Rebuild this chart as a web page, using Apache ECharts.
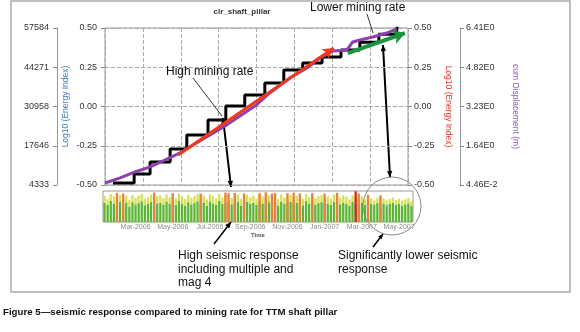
<!DOCTYPE html>
<html>
<head>
<meta charset="utf-8">
<script src="https://cdn.jsdelivr.net/npm/echarts@6/dist/echarts.min.js"></script>
<style>
  html, body { margin: 0; padding: 0; background: #fff; }
  #chart { width: 580px; height: 332px; }
</style>
</head>
<body>
<div id="chart"></div>
<script>
// tick labels
const energyLabels = ['-0.50', '-0.25', '0.00', '0.25', '0.50'];
const miningLabels = ['4333', '17646', '30958', '44271', '57584'];
const dispLabels = ['4.46E-2', '1.64E0', '3.23E0', '4.82E0', '6.41E0'];

// mining staircase: [step position, new level]
const stairs = [[0.21, -0.487], [0.77, -0.43], [1.19, -0.354], [1.72, -0.271], [2.16, -0.182],
  [2.72, -0.086], [3.19, 0.003], [3.69, 0.073], [4.22, 0.150], [4.72, 0.232], [5.22, 0.277],
  [5.73, 0.315], [6.23, 0.36], [6.73, 0.41], [7.23, 0.46], [7.70, 0.5], [7.75, 0.5]];

// cumulative displacement
const displacement = [[0, -0.487], [0.40, -0.455], [0.79, -0.417], [1.19, -0.385], [1.58, -0.341],
  [1.98, -0.296], [2.37, -0.239], [2.77, -0.182], [3.17, -0.124], [3.56, -0.061], [3.96, 0.003],
  [4.35, 0.086], [4.88, 0.182], [5.33, 0.245], [5.67, 0.309], [6.02, 0.354], [6.39, 0.36],
  [6.54, 0.411], [6.73, 0.424], [7.07, 0.443], [7.44, 0.468], [7.70, 0.494]];

// trend arrows
const highRateTrend = [[1.93, -0.309], [6.04, 0.373]];
const lowRateTrend = [[6.41, 0.34], [7.92, 0.468]];

// seismic response panel
const greenBars = [62,55,68,60,52,66,58,63,50,64, 57,61,67,54,59,65,52,60,63,56,
  66,58,62,55,69,60,53,64,57,61, 67,59,63,52,66,60,55,68,58,62,
  64,57,61,66,53,60,65,58,62,55, 67,60,56,64,59,63,52,66,58,61,
  65,57,62,60,54,67,59,63,56,61, 64,58,60,55,66,62,57,63,59,52,
  65,60,58,62,56,64,59,55,61,57, 60,54,58,62,55,59,53,57,60,52];
const topBars = [84,74,90,82,70,88,79,86,72,87, 78,85,91,75,80,88,73,84,86,77,
  89,79,85,76,92,83,74,87,78,84, 90,80,86,73,89,83,76,91,79,85,
  87,78,84,89,74,83,88,79,85,76, 90,83,77,87,80,86,73,89,79,84,
  88,78,85,83,75,90,80,86,77,84, 87,79,83,76,89,85,78,86,82,73,
  86,81,79,83,72,80,76,70,78,74, 76,70,74,79,71,75,69,73,77,68];
const spikeIdx = [4, 6, 16, 22, 31, 39, 40, 42, 45, 50, 52, 54, 55, 59, 61, 63, 67, 71, 75, 81, 82, 85, 89];
const spikeVal = [94, 92, 95, 93, 92, 95, 93, 94, 92, 93, 96, 92, 94, 93, 95, 92, 93, 92, 94, 99, 92, 88, 86];
const barTickIdx = [10, 22, 34, 47, 59, 71, 83, 95];
const barTickLabels = ['Mar-2006', 'May-2006', 'Jul-2006', 'Sep-2006', 'Nov-2006', 'Jan-2007', 'Mar-2007', 'May-2007'];

const FONT = 'Arial, "Liberation Sans", sans-serif';

const barCats = greenBars.map((_, i) => 'w' + i);
const yellowPart = topBars.map((t, i) => t - greenBars[i]);
const spikes = greenBars.map(() => 0);
spikeIdx.forEach((k, i) => { spikes[k] = spikeVal[i]; });

function idxLabel(arr) {
    return v => arr[Math.round((v + 0.5) / 0.25)];
}

function arrow(x1, y1, x2, y2, both, size, width) {
    const len = Math.hypot(x2 - x1, y2 - y1);
    const dx = (x2 - x1) / len, dy = (y2 - y1) / len;
    const head = (tx, ty, ux, uy) => ({
        type: 'polygon',
        shape: { points: [[tx, ty],
            [tx - ux * size - uy * size * 0.45, ty - uy * size + ux * size * 0.45],
            [tx - ux * size + uy * size * 0.45, ty - uy * size - ux * size * 0.45]] },
        style: { fill: '#000' }
    });
    const els = [{ type: 'line', shape: { x1: x1, y1: y1, x2: x2, y2: y2 }, style: { stroke: '#000', lineWidth: width } },
        head(x2, y2, dx, dy)];
    if (both) els.push(head(x1, y1, -dx, -dy));
    return els;
}

const chart = echarts.init(document.getElementById('chart'));

const tick = { show: true, length: 4, lineStyle: { color: '#888' } };
const lbl = { fontSize: 9, color: '#333', fontFamily: FONT };

const option = {
    animation: false,
    textStyle: { fontFamily: FONT },
    grid: [
        { left: 105, top: 28, width: 303, height: 157, show: true, borderColor: '#999', borderWidth: 1 },
        { left: 103, top: 191, width: 310, height: 31, show: true, borderColor: '#999', borderWidth: 1 }
    ],
    xAxis: [
        { gridIndex: 0, type: 'value', min: 0, max: 8, interval: 1,
          axisLabel: { show: false }, axisTick: { show: false }, axisLine: { show: false },
          splitLine: { lineStyle: { type: 'dashed', color: '#aaa' } } },
        { gridIndex: 1, type: 'category', data: barCats, boundaryGap: true,
          axisLine: { show: false }, axisTick: { show: false },
          axisLabel: { interval: i => barTickIdx.indexOf(i) >= 0,
                       formatter: (v, i) => barTickLabels[barTickIdx.indexOf(i)] || '',
                       fontSize: 7, color: '#8a8a8a', margin: 2 },
          name: 'Time', nameLocation: 'middle', nameGap: 10, nameMoveOverlap: false,
          nameTextStyle: { fontSize: 6, fontWeight: 'bold', color: '#555' } }
    ],
    yAxis: [
        { gridIndex: 0, type: 'value', min: -0.5, max: 0.5, interval: 0.25, position: 'left',
          axisLine: { show: false }, axisTick: tick,
          axisLabel: Object.assign({ formatter: idxLabel(energyLabels), margin: 8 }, lbl),
          splitLine: { lineStyle: { type: 'dashed', color: '#aaa' } },
          name: 'Log10 (Energy Index)', nameLocation: 'middle', nameGap: 35, nameMoveOverlap: false,
          nameTextStyle: { color: '#3b7cc4', fontSize: 8.5 } },
        { gridIndex: 0, type: 'value', min: -0.5, max: 0.5, interval: 0.25, position: 'left', offset: 48,
          axisLine: { show: true, lineStyle: { color: '#999' } }, axisTick: tick,
          axisLabel: Object.assign({ formatter: idxLabel(miningLabels), margin: 8 }, lbl),
          splitLine: { show: false } },
        { gridIndex: 0, type: 'value', min: -0.5, max: 0.5, interval: 0.25, position: 'right',
          axisLine: { show: false }, axisTick: tick,
          axisLabel: Object.assign({ formatter: idxLabel(energyLabels), margin: 6 }, lbl),
          splitLine: { show: false },
          name: 'Log10 (Energy Index)', nameLocation: 'middle', nameGap: 36, nameRotate: -90, nameMoveOverlap: false,
          nameTextStyle: { color: '#e03a2a', fontSize: 8.5 } },
        { gridIndex: 0, type: 'value', min: -0.5, max: 0.5, interval: 0.25, position: 'right', offset: 52,
          axisLine: { show: true, lineStyle: { color: '#999' } }, axisTick: tick,
          axisLabel: Object.assign({ formatter: idxLabel(dispLabels), margin: 6 }, lbl),
          splitLine: { show: false },
          name: 'cum Displacement (m)', nameLocation: 'middle', nameGap: 51, nameRotate: -90, nameMoveOverlap: false,
          nameTextStyle: { color: '#8a5cb8', fontSize: 8.5 } },
        { gridIndex: 1, type: 'value', min: 0, max: 100, show: false, splitLine: { show: false } }
    ],
    series: [
        { name: 'mining', type: 'line', step: 'end', data: stairs, symbol: 'none',
          lineStyle: { color: '#000', width: 3 }, z: 3 },
        { name: 'displacement', type: 'line', data: displacement, symbol: 'none',
          lineStyle: { color: '#8e3fae', width: 3 }, z: 4 },
        { name: 'high rate', type: 'line', data: [], z: 5,
          markLine: { silent: true, symbol: ['none', 'arrow'], symbolSize: [9, 11], label: { show: false },
                      lineStyle: { color: '#ee3a1c', width: 3, type: 'solid' },
                      data: [[{ coord: highRateTrend[0] }, { coord: highRateTrend[1] }]] } },
        { name: 'low rate', type: 'line', data: [], z: 5,
          markLine: { silent: true, symbol: ['none', 'arrow'], symbolSize: [11, 12], label: { show: false },
                      lineStyle: { color: '#1b9440', width: 4, type: 'solid' },
                      data: [[{ coord: lowRateTrend[0] }, { coord: lowRateTrend[1] }]] } },
        { name: 'green', type: 'bar', xAxisIndex: 1, yAxisIndex: 4, stack: 's', data: greenBars,
          barWidth: '75%', barGap: '-100%', itemStyle: { color: '#5db536' } },
        { name: 'yellow', type: 'bar', xAxisIndex: 1, yAxisIndex: 4, stack: 's', data: yellowPart,
          barWidth: '75%', itemStyle: { color: '#d9e057' } },
        { name: 'spike', type: 'bar', xAxisIndex: 1, yAxisIndex: 4, data: spikes, barWidth: '75%',
          itemStyle: { color: p => p.value >= 98 ? '#d9231e' : '#e4843e' } }
    ],
    graphic: [
        { type: 'rect', shape: { x: 11, y: 1, width: 559, height: 291 },
          style: { fill: 'none', stroke: '#aaa', lineWidth: 1.5 }, z: 0 },
        { type: 'text', x: 242, y: 12, style: { text: 'clr_shaft_pillar', font: 'bold 8px ' + FONT, fill: '#333',
          textAlign: 'center', textVerticalAlign: 'middle' } },
        { type: 'text', x: 166, y: 72, style: { text: 'High mining rate', font: '12px ' + FONT, fill: '#111',
          textVerticalAlign: 'middle' }, z: 10 },
        { type: 'text', x: 310, y: 8, style: { text: 'Lower mining rate', font: '12px ' + FONT, fill: '#111',
          textVerticalAlign: 'middle' }, z: 10 },
        { type: 'line', shape: { x1: 193, y1: 78, x2: 222, y2: 116 }, style: { stroke: '#333', lineWidth: 1 }, z: 10 },
        { type: 'line', shape: { x1: 367, y1: 14, x2: 373, y2: 33 }, style: { stroke: '#333', lineWidth: 1 }, z: 10 },
        { type: 'circle', shape: { cx: 392, cy: 206, r: 29 }, style: { fill: 'none', stroke: '#888', lineWidth: 1 }, z: 10 },
        { type: 'text', x: 178, y: 249, style: { text: 'High seismic response\nincluding multiple and\nmag 4',
          font: '12px ' + FONT, fill: '#111', lineHeight: 13.5, textVerticalAlign: 'top' }, z: 10 },
        { type: 'text', x: 338, y: 249, style: { text: 'Significantly lower seismic\nresponse',
          font: '12px ' + FONT, fill: '#111', lineHeight: 13.5, textVerticalAlign: 'top' }, z: 10 },
        { type: 'text', x: 3, y: 312, style: { text: 'Figure 5\u2014seismic response compared to mining rate for TTM shaft pillar',
          font: 'bold 9.7px ' + FONT, fill: '#111', textVerticalAlign: 'middle' } },
        { type: 'group', z: 10, children: []
            .concat(arrow(223, 118, 231, 187, true, 6, 2))
            .concat(arrow(383, 45, 390, 177, true, 6, 2))
            .concat(arrow(214, 244, 231, 222, false, 6, 1.5))
            .concat(arrow(373, 247, 383, 234, false, 5, 1.5)) }
    ]
};

chart.setOption(option);
</script>
</body>
</html>
